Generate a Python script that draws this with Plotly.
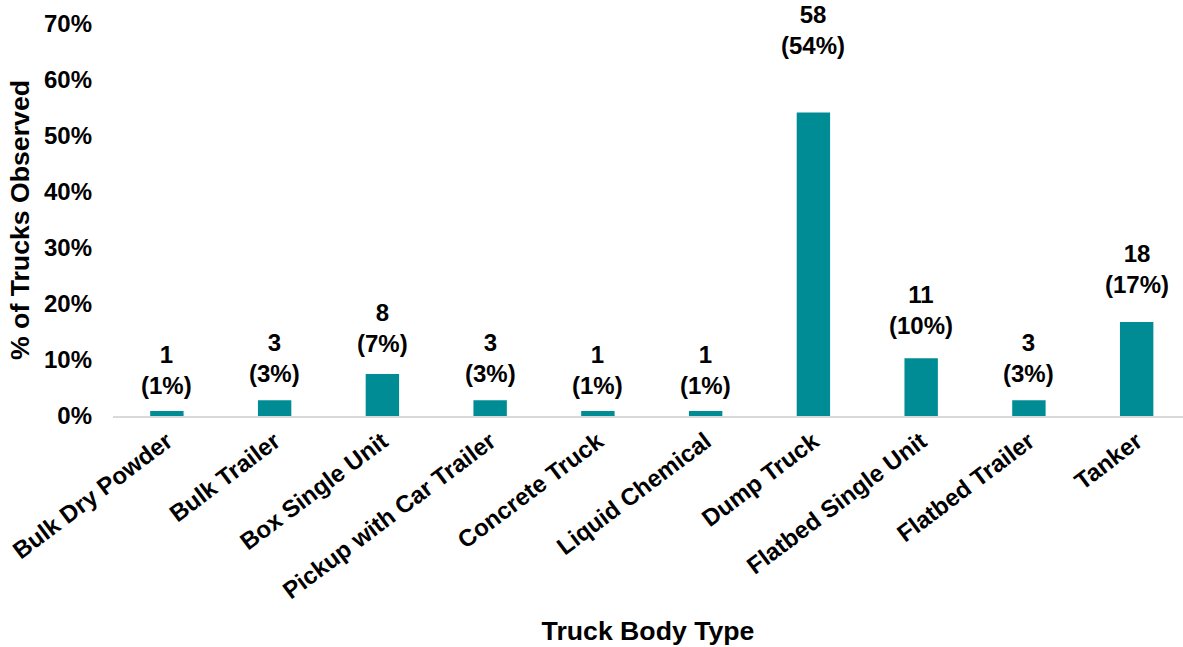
import plotly.graph_objects as go

categories = ["Bulk Dry Powder", "Bulk Trailer", "Box Single Unit", "Pickup with Car Trailer",
              "Concrete Truck", "Liquid Chemical", "Dump Truck", "Flatbed Single Unit",
              "Flatbed Trailer", "Tanker"]
counts = [1, 3, 8, 3, 1, 1, 58, 11, 3, 18]
pct_values = [0.009, 0.028, 0.075, 0.028, 0.009, 0.009, 0.542, 0.103, 0.028, 0.168]
pct_labels = ["1%", "3%", "7%", "3%", "1%", "1%", "54%", "10%", "3%", "17%"]
y_ticks = [0, 0.1, 0.2, 0.3, 0.4, 0.5, 0.6, 0.7]
y_tick_text = ["0%", "10%", "20%", "30%", "40%", "50%", "60%", "70%"]

FONT = "Liberation Sans, Arial, sans-serif"
xs = list(range(len(categories)))

W, H = 1183, 647
M_L, M_R, M_T, M_B = 112.6, 0, 24, 231
Y_MAX = 0.7
plot_h = H - M_T - M_B

fig = go.Figure()
fig.add_trace(go.Bar(x=xs, y=pct_values, width=0.31, marker_color="#008C95",
                     marker_line_width=0, hoverinfo="skip"))

for i, (c, p, v) in enumerate(zip(counts, pct_labels, pct_values)):
    bar_px = v / Y_MAX * plot_h
    fig.add_annotation(x=i, y=v, text=f"<b>{c}<br>({p})</b>", showarrow=False,
                       yanchor="bottom", yshift=10 + 0.14 * bar_px, xanchor="center",
                       borderpad=0,
                       font=dict(family=FONT, size=24, color="black"))

fig.update_layout(
    width=W, height=H,
    margin=dict(l=M_L, r=M_R, t=M_T, b=M_B, autoexpand=False),
    plot_bgcolor="white", paper_bgcolor="white",
    showlegend=False,
    xaxis=dict(
        tickmode="array", tickvals=xs, ticktext=[f"<b>{c}</b>" for c in categories],
        tickangle=-37, range=[-0.5, 9.43], automargin=False,
        tickfont=dict(family=FONT, size=24, color="black"),
        showline=True, linecolor="#D9D9D9", linewidth=2,
        showgrid=False, ticks="", zeroline=False,
        title=dict(text="<b>Truck Body Type</b>", font=dict(family=FONT, size=26.67, color="black"),
                   standoff=18),
    ),
    yaxis=dict(
        range=[0, Y_MAX], tickvals=y_ticks, ticktext=[f"<b>{t}</b>" for t in y_tick_text],
        tickfont=dict(family=FONT, size=24, color="black"), automargin=False,
        showgrid=False, zeroline=False, showline=False, ticks="",
        ticklabelstandoff=20,
        title=dict(text="<b>% of Trucks Observed</b>", font=dict(family=FONT, size=26.67, color="black"),
                   standoff=6),
    ),
)

fig.write_html("out.html", config={"displayModeBar": False},
               post_script="document.body.style.margin='0';document.body.style.overflow='hidden';")
